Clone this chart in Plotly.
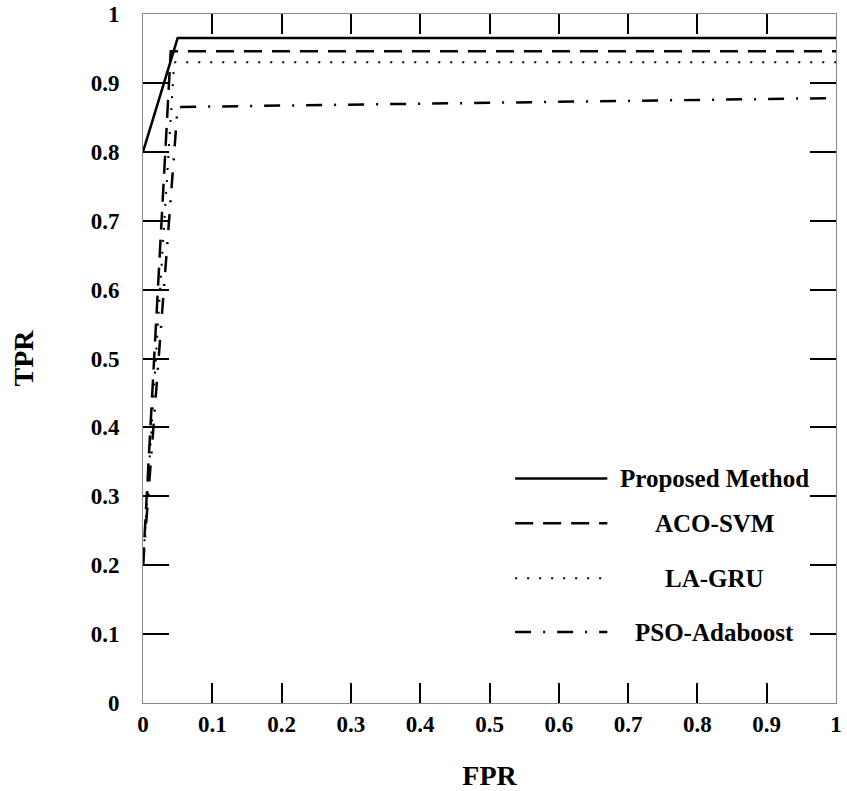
import plotly.graph_objects as go

names = ["Proposed Method", "ACO-SVM", "LA-GRU", "PSO-Adaboost"]
fpr = {
    "Proposed Method": [0.0, 0.05, 1.0],
    "ACO-SVM": [0.0, 0.04, 1.0],
    "LA-GRU": [0.0, 0.045, 1.0],
    "PSO-Adaboost": [0.0, 0.05, 1.0],
}
tpr = {
    "Proposed Method": [0.80, 0.965, 0.965],
    "ACO-SVM": [0.20, 0.946, 0.946],
    "LA-GRU": [0.20, 0.930, 0.930],
    "PSO-Adaboost": [0.20, 0.865, 0.878],
}
tick_vals = [0, 0.1, 0.2, 0.3, 0.4, 0.5, 0.6, 0.7, 0.8, 0.9, 1]
tick_text = ["0", "0.1", "0.2", "0.3", "0.4", "0.5", "0.6", "0.7", "0.8", "0.9", "1"]

styles = {
    "Proposed Method": dict(dash="solid", width=2.5),
    "ACO-SVM": dict(dash="18px,10px", width=2.5),
    "LA-GRU": dict(dash="2px,10px", width=2),
    "PSO-Adaboost": dict(dash="16px,12px,2px,12px", width=2.5),
}

fig = go.Figure()
for n in names:
    fig.add_trace(go.Scatter(x=fpr[n], y=tpr[n], mode="lines", name=n,
                             line=dict(color="black", **styles[n]), showlegend=False))

serif = "Liberation Serif"
tickfont = dict(family=serif, size=23, color="black", weight="bold")
legfont = dict(family=serif, size=25, color="black", weight="bold")
titlefont = dict(family=serif, size=28, color="black", weight="bold")

# manual legend (line samples + centered labels)
leg_y = [0.326, 0.261, 0.181, 0.103]
for n, yy in zip(names, leg_y):
    fig.add_shape(type="line", xref="paper", yref="paper", x0=0.537, x1=0.670, y0=yy, y1=yy,
                  line=dict(color="black", **styles[n]))
    fig.add_annotation(xref="paper", yref="paper", x=0.825, y=yy, text=n,
                       showarrow=False, font=legfont, xanchor="center", yanchor="middle")

axis_common = dict(range=[0, 1], tickvals=tick_vals, ticktext=tick_text, ticks="inside",
                   tickcolor="black", tickwidth=2, showline=True, linecolor="#888888",
                   linewidth=1, mirror="ticks", showgrid=False, zeroline=False,
                   automargin=False, tickfont=tickfont, ticklabeloverflow="allow")
fig.update_xaxes(**axis_common, ticklen=20,
                 title=dict(text="FPR", font=titlefont, standoff=32))
fig.update_yaxes(**axis_common, ticklen=26, ticklabelstandoff=18,
                 title=dict(text="TPR", font=titlefont, standoff=48))
fig.update_layout(width=847, height=791, plot_bgcolor="white", paper_bgcolor="white",
                  margin=dict(l=143, r=11, t=14, b=88), font=tickfont)
fig.write_html("out.html", config={"displayModeBar": False},
               post_script="document.body.style.margin='0';")
